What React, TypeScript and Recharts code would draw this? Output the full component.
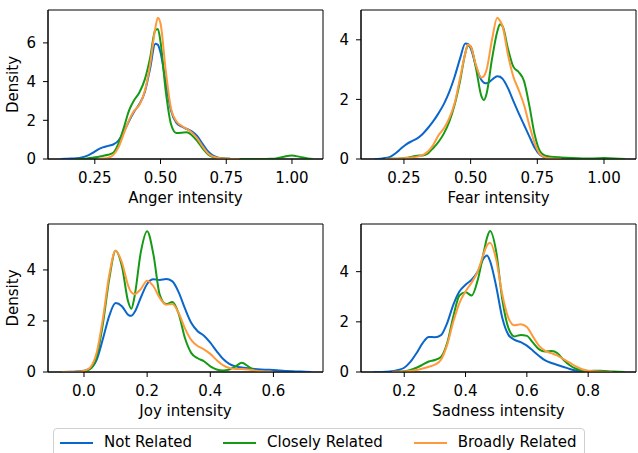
import React from "react";
import { LineChart, Line, XAxis, YAxis, ReferenceArea } from "recharts";

// series names / colours
const seriesNames = ["Not Related", "Closely Related", "Broadly Related"];
const seriesColors = ["#0b66cc", "#159a15", "#ff9a3c"];

// Anger
const angerX = [0.12, 0.14, 0.16, 0.18, 0.2, 0.22, 0.24, 0.26, 0.28, 0.3, 0.32, 0.34, 0.36, 0.38, 0.4, 0.42, 0.44, 0.46, 0.48, 0.49, 0.5, 0.52, 0.54, 0.56, 0.58, 0.6, 0.62, 0.64, 0.66, 0.68, 0.7, 0.72, 0.74, 0.76, 0.78, 0.8, 0.84, 0.88, 0.92, 0.94, 0.97, 1.0, 1.03, 1.06, 1.08];
const angerNot = [0, 0.01, 0.02, 0.04, 0.08, 0.16, 0.3, 0.47, 0.6, 0.68, 0.75, 0.95, 1.4, 1.95, 2.45, 2.85, 3.45, 4.65, 5.95, 5.9, 5.5, 3.95, 2.5, 1.88, 1.68, 1.55, 1.42, 1.18, 0.78, 0.4, 0.18, 0.07, 0.03, 0.01, 0, 0, 0, null, null, null, null, null, null, null, null];
const angerClose = [null, null, null, 0, 0.01, 0.03, 0.06, 0.1, 0.16, 0.22, 0.32, 0.8, 1.6, 2.5, 3.05, 3.45, 4.1, 5.2, 6.65, 6.72, 6.05, 3.5, 1.8, 1.35, 1.36, 1.38, 1.22, 0.92, 0.55, 0.25, 0.1, 0.04, 0.02, 0.01, 0, 0, 0, 0, 0.01, 0.03, 0.12, 0.18, 0.11, 0.03, 0];
const angerBroad = [null, null, null, null, null, null, null, 0, 0.02, 0.06, 0.2, 0.6, 1.3, 2.0, 2.5, 2.8, 3.5, 4.85, 6.75, 7.3, 7.0, 4.55, 2.6, 1.95, 1.72, 1.55, 1.35, 1.05, 0.65, 0.3, 0.12, 0.05, 0.02, 0.01, 0, 0, null, null, null, null, null, null, null, null, null];

// Fear
const fearX = [0.14, 0.16, 0.18, 0.2, 0.22, 0.24, 0.26, 0.28, 0.3, 0.32, 0.34, 0.36, 0.38, 0.4, 0.42, 0.44, 0.46, 0.48, 0.49, 0.5, 0.52, 0.54, 0.55, 0.56, 0.58, 0.6, 0.61, 0.62, 0.64, 0.66, 0.68, 0.7, 0.72, 0.74, 0.76, 0.78, 0.8, 0.84, 0.88, 0.92, 0.96, 1.0, 1.04, 1.08];
const fearNot = [0, 0.01, 0.03, 0.08, 0.2, 0.36, 0.5, 0.6, 0.69, 0.84, 1.04, 1.27, 1.54, 1.85, 2.25, 2.76, 3.36, 3.88, 3.86, 3.72, 3.12, 2.66, 2.56, 2.54, 2.66, 2.78, 2.76, 2.69, 2.38, 1.95, 1.54, 1.15, 0.76, 0.38, 0.14, 0.05, 0.02, 0, null, null, null, null, null, null];
const fearClose = [null, null, 0, 0.01, 0.01, 0.02, 0.04, 0.08, 0.11, 0.12, 0.19, 0.37, 0.58, 0.86, 1.25, 1.82, 2.6, 3.55, 3.82, 3.78, 3.05, 2.12, 1.98, 2.2, 3.35, 4.28, 4.52, 4.45, 3.7, 3.1, 2.92, 2.62, 1.8, 0.82, 0.26, 0.11, 0.08, 0.05, 0.03, 0.02, 0.02, 0.03, 0.02, 0];
const fearBroad = [null, null, 0, 0.01, 0.01, 0.02, 0.03, 0.05, 0.08, 0.13, 0.25, 0.48, 0.8, 1.03, 1.37, 1.87, 2.7, 3.55, 3.84, 3.78, 3.15, 2.73, 2.78, 3.0, 4.0, 4.74, 4.64, 4.45, 3.5, 2.77, 2.32, 1.82, 1.14, 0.53, 0.16, 0.05, 0.02, 0, null, null, null, null, null, null];

// Joy
const joyX = [-0.07, -0.04, -0.02, 0.0, 0.02, 0.04, 0.06, 0.08, 0.1, 0.12, 0.14, 0.15, 0.16, 0.18, 0.2, 0.22, 0.24, 0.26, 0.28, 0.3, 0.32, 0.34, 0.36, 0.38, 0.4, 0.42, 0.44, 0.46, 0.48, 0.5, 0.52, 0.54, 0.56, 0.58, 0.6, 0.62, 0.66, 0.7, 0.72];
const joyNot = [0, 0.01, 0.02, 0.05, 0.14, 0.48, 1.3, 2.2, 2.7, 2.58, 2.24, 2.2, 2.34, 2.92, 3.45, 3.63, 3.61, 3.64, 3.55, 3.12, 2.48, 1.92, 1.6, 1.42, 1.15, 0.82, 0.52, 0.32, 0.22, 0.18, 0.15, 0.12, 0.1, 0.09, 0.08, 0.06, 0.03, 0.01, 0];
const joyClose = [0, 0, 0.01, 0.03, 0.12, 0.6, 1.9, 3.65, 4.75, 4.15, 2.75, 2.48, 2.95, 4.7, 5.52, 4.6, 3.02, 2.66, 2.74, 2.28, 1.32, 0.74, 0.54, 0.42, 0.22, 0.1, 0.06, 0.1, 0.22, 0.36, 0.22, 0.06, 0.01, 0, null, null, null, null, null];
const joyBroad = [0, 0, 0.01, 0.04, 0.18, 0.75, 2.1, 3.8, 4.75, 4.3, 3.38, 3.12, 3.05, 3.25, 3.58, 3.36, 2.9, 2.64, 2.66, 2.3, 1.7, 1.25, 1.02, 0.89, 0.71, 0.47, 0.27, 0.16, 0.12, 0.12, 0.1, 0.06, 0.02, 0.01, 0, null, null, null, null];

// Sadness
const sadX = [0.1, 0.12, 0.14, 0.16, 0.18, 0.2, 0.22, 0.24, 0.26, 0.28, 0.3, 0.32, 0.34, 0.36, 0.38, 0.4, 0.42, 0.44, 0.46, 0.47, 0.48, 0.5, 0.52, 0.54, 0.56, 0.58, 0.6, 0.62, 0.64, 0.66, 0.68, 0.7, 0.72, 0.74, 0.76, 0.78, 0.8, 0.84, 0.88, 0.92];
const sadNot = [0, 0, 0.01, 0.03, 0.08, 0.17, 0.4, 0.75, 1.15, 1.4, 1.39, 1.47, 1.95, 2.68, 3.21, 3.48, 3.68, 4.01, 4.55, 4.64, 4.42, 3.41, 2.15, 1.48, 1.28, 1.19, 1.05, 0.85, 0.64, 0.46, 0.36, 0.28, 0.2, 0.12, 0.06, 0.03, 0.01, 0, null, null];
const sadClose = [null, null, null, 0, 0.01, 0.03, 0.08, 0.17, 0.29, 0.42, 0.48, 0.6, 1.15, 2.2, 3.05, 3.18, 3.05, 3.68, 4.81, 5.35, 5.62, 4.8, 2.88, 1.75, 1.42, 1.48, 1.44, 1.17, 0.9, 0.82, 0.84, 0.75, 0.48, 0.27, 0.13, 0.06, 0.04, 0.05, 0.02, 0];
const sadBroad = [null, null, null, 0, 0.01, 0.02, 0.04, 0.08, 0.14, 0.21, 0.29, 0.49, 1.08, 2.0, 2.75, 3.21, 3.57, 4.01, 4.75, 5.05, 5.15, 4.48, 3.08, 2.15, 1.86, 1.9, 1.79, 1.41, 1.04, 0.84, 0.75, 0.65, 0.51, 0.37, 0.22, 0.11, 0.05, 0.01, 0, null];

const twoDec = [0.25, 0.5, 0.75, 1.0];
const FONT = "'DejaVu Sans', sans-serif";

const rows = (xs: number[], a: (number | null)[], b: (number | null)[], c: (number | null)[]) =>
  xs.map((x, i) => ({ x, s0: a[i], s1: b[i], s2: c[i] }));

interface PanelProps {
  data: { x: number; s0: number | null; s1: number | null; s2: number | null }[];
  xDomain: [number, number];
  yMax: number;
  xTicks: number[];
  yTicks: number[];
  digits: number;
  xLabel: string;
  yLabel?: string;
  left: number;
  top: number;
  plotH: number;
  rightPad: number;
}

const Panel: React.FC<PanelProps> = ({ data, xDomain, yMax, xTicks, yTicks, digits, xLabel, yLabel, left, top, plotH, rightPad }) => {
  const width = 48 + 275 + rightPad;
  const height = 10 + plotH + 51;
  const tickStyle = { fill: "#000", fontSize: 15, fontFamily: FONT };
  return (
    <div style={{ position: "absolute", left, top, width, height }}>
      <LineChart width={width} height={height} data={data} margin={{ top: 10, right: rightPad, bottom: 0, left: 0 }}>
        <XAxis
          dataKey="x"
          type="number"
          domain={xDomain}
          ticks={xTicks}
          allowDataOverflow
          height={51}
          tickSize={5}
          tickMargin={8}
          tick={tickStyle}
          tickLine={{ stroke: "#000" }}
          axisLine={{ stroke: "#000" }}
          tickFormatter={(v: number) => v.toFixed(digits)}
          label={{ value: xLabel, position: "insideBottom", offset: 7, fill: "#000", fontSize: 15, fontFamily: FONT }}
        />
        <YAxis
          type="number"
          domain={[0, yMax]}
          ticks={yTicks}
          allowDataOverflow
          width={48}
          tickSize={5}
          tickMargin={7}
          tick={tickStyle}
          tickLine={{ stroke: "#000" }}
          axisLine={{ stroke: "#000" }}
          label={
            yLabel
              ? { value: yLabel, angle: -90, position: "insideLeft", offset: 13, fill: "#000", fontSize: 15, fontFamily: FONT, style: { textAnchor: "middle" } }
              : undefined
          }
        />
        <ReferenceArea x1={xDomain[0]} x2={xDomain[1]} y1={0} y2={yMax} fill="none" stroke="#000" strokeWidth={1} />
        {["s0", "s1", "s2"].map((k, i) => (
          <Line
            key={k}
            dataKey={k}
            type="monotone"
            stroke={seriesColors[i]}
            strokeWidth={2}
            dot={false}
            activeDot={false}
            isAnimationActive={false}
          />
        ))}
      </LineChart>
    </div>
  );
};

const App: React.FC = () => (
  <div style={{ position: "absolute", left: 0, top: 0, width: 638, height: 453, overflow: "hidden", background: "#fff", fontFamily: FONT }}>
    <Panel data={rows(angerX, angerNot, angerClose, angerBroad)} xDomain={[0.072, 1.118]} yMax={7.7} xTicks={twoDec} yTicks={[0, 2, 4, 6]} digits={2} xLabel="Anger intensity" yLabel="Density" left={0} top={0} plotH={149} rightPad={7} />
    <Panel data={rows(fearX, fearNot, fearClose, fearBroad)} xDomain={[0.089, 1.12]} yMax={5.0} xTicks={twoDec} yTicks={[0, 2, 4]} digits={2} xLabel="Fear intensity" left={313} top={0} plotH={149} rightPad={2} />
    <Panel data={rows(joyX, joyNot, joyClose, joyBroad)} xDomain={[-0.114, 0.757]} yMax={5.8} xTicks={[0, 0.2, 0.4, 0.6]} yTicks={[0, 2, 4]} digits={1} xLabel="Joy intensity" yLabel="Density" left={0} top={214} plotH={148} rightPad={7} />
    <Panel data={rows(sadX, sadNot, sadClose, sadBroad)} xDomain={[0.059, 0.956]} yMax={5.9} xTicks={[0.2, 0.4, 0.6, 0.8]} yTicks={[0, 2, 4]} digits={1} xLabel="Sadness intensity" left={313} top={214} plotH={148} rightPad={2} />
    <div
      style={{
        position: "absolute",
        left: 53,
        top: 428,
        display: "flex",
        alignItems: "center",
        border: "1px solid #d0d0d0",
        borderRadius: 4,
        padding: "5px 8px 10px 6px",
        fontSize: 15,
        lineHeight: "17px",
        color: "#000",
        background: "#fff",
      }}
    >
      {seriesNames.map((name, i) => (
        <div key={name} style={{ display: "flex", alignItems: "center", marginRight: i < seriesNames.length - 1 ? 31 : 0 }}>
          <span style={{ display: "inline-block", width: 33, height: 2, background: seriesColors[i], marginRight: 11 }} />
          <span>{name}</span>
        </div>
      ))}
    </div>
  </div>
);

export default App;
